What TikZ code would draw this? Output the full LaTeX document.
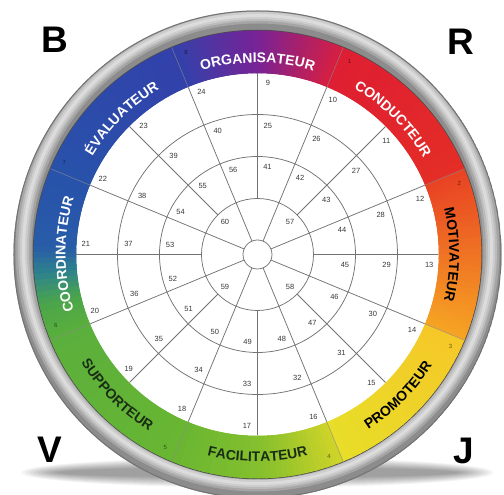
\documentclass[tikz,border=0pt]{standalone}
\usepackage{fontspec}
\setmainfont{Liberation Sans}
\usetikzlibrary{decorations.text}
\definecolor{k0}{RGB}{50,65,170}
\definecolor{k1}{RGB}{40,82,170}
\definecolor{k2}{RGB}{40,92,168}
\definecolor{k3}{RGB}{45,130,140}
\definecolor{k4}{RGB}{75,165,75}
\definecolor{k5}{RGB}{90,175,60}
\definecolor{k6}{RGB}{105,182,50}
\definecolor{k6b}{RGB}{135,192,45}
\definecolor{k7}{RGB}{208,212,40}
\definecolor{k8}{RGB}{232,222,40}
\definecolor{k9}{RGB}{245,200,40}
\definecolor{k10}{RGB}{246,165,35}
\definecolor{k11}{RGB}{232,65,35}
\definecolor{k12}{RGB}{228,45,38}
\definecolor{k13}{RGB}{222,30,50}
\definecolor{k14}{RGB}{215,30,65}
\definecolor{k15}{RGB}{120,35,150}
\definecolor{k16}{RGB}{50,65,170}
\definecolor{darktext}{RGB}{25,45,20}
\definecolor{numcol}{RGB}{55,55,55}
\newcommand\bandfont{\fontsize{14}{14}\selectfont\bfseries}
\newcommand\bandseg[5]{%
  \foreach \i in {1,...,#5}{%
    \pgfmathsetmacro\aa{#1+(#2-#1)*(\i-1)/#5}%
    \pgfmathsetmacro\ab{#1+(#2-#1)*\i/#5+0.4}%
    \pgfmathtruncatemacro\pp{round(100*(\i-0.5)/#5)}%
    \fill[#4!\pp!#3] (\aa:181) arc[start angle=\aa,end angle=\ab,radius=181]
      -- (\ab:224) arc[start angle=\ab,end angle=\aa,radius=224] -- cycle;
  }%
}
\newcommand\toplabel[3]{%
  \path[decorate,decoration={text along path,text align=center,
    text={|\bandfont\color{#3}|#2}}]
    ({#1+40}:192) arc[start angle={#1+40},end angle={#1-40},radius=192];}
\newcommand\botlabel[3]{%
  \path[decorate,decoration={text along path,text align=center,
    text={|\bandfont\color{#3}|#2}}]
    ({#1-40}:207) arc[start angle={#1-40},end angle={#1+40},radius=207];}
\begin{document}
\begin{tikzpicture}[x=1pt,y=1pt,
  gridline/.style={line width=0.75pt,draw=black!55},
  num/.style={font=\fontsize{7.5}{8}\selectfont,text=numcol,inner sep=0pt},
  secnum/.style={font=\fontsize{6}{6}\selectfont,text=black,opacity=0.55,inner sep=0pt},
  corner/.style={font=\fontsize{37}{37}\selectfont\bfseries,inner sep=0pt}]
\useasboundingbox (-257.5,-240.5) rectangle (246.5,254.5);
\fill[white] (-257.5,-240.5) rectangle (246.5,254.5);
% shadow
\foreach \k in {0,...,9}
  \fill[black,opacity=0.045] (0,-218) ellipse[x radius={236-4*\k}, y radius={15-1.1*\k}];
% metallic ring
\begin{scope}[even odd rule]
  \clip (0,0) circle[radius=244] (0,0) circle[radius=223];
  \fill[black!45] (0,0) circle[radius=245];
  \foreach \w/\o in {16/0.22,11/0.25,7/0.28,3/0.3}
    \draw[white,opacity=\o,line width=\w pt] (0,5) circle[radius=234];
  \draw[black!70,line width=2.5pt] (0,0) circle[radius=223.5];
  \draw[black!55,line width=1.2pt] (0,0) circle[radius=243.6];
\end{scope}
% colour band
\bandseg{-247.5}{-202.5}{k0}{k1}{20}
\bandseg{-202.5}{-182}{k1}{k2}{10}
\bandseg{-182}{-175}{k2}{k3}{5}
\bandseg{-175}{-167}{k3}{k4}{5}
\bandseg{-167}{-157.5}{k4}{k5}{5}
\bandseg{-157.5}{-112.5}{k5}{k6}{15}
\bandseg{-112.5}{-88}{k6}{k6b}{12}
\bandseg{-88}{-67.5}{k6b}{k7}{14}
\bandseg{-67.5}{-22.5}{k8}{k9}{20}
\bandseg{-22.5}{22.5}{k10}{k11}{30}
\bandseg{22.5}{67.5}{k12}{k13}{15}
\bandseg{67.5}{90}{k14}{k15}{15}
\bandseg{90}{112.5}{k15}{k16}{15}
\fill[white] (0,0) circle[radius=181];
% band boundaries
\foreach \a in {22.5,67.5,...,337.5}
  \draw[black!45,line width=0.6pt,opacity=0.7] (\a:181) -- (\a:224);
% grid
\foreach \r in {14.5,56,98,140}
  \draw[gridline] (0,0) circle[radius=\r];
\foreach \a in {22.5,67.5,...,337.5}
  \draw[gridline] (\a:14.5) -- (\a:181);
\foreach \a in {0,45,...,315}
  \draw[gridline] (\a:56) -- (\a:181);
% cell numbers
\foreach \i in {0,...,15}{
  \pgfmathtruncatemacro\na{9+\i}
  \pgfmathtruncatemacro\nb{25+\i}
  \pgfmathtruncatemacro\nc{41+\i}
  \node[num] (n\na) at ({90-22.5*\i-3.5}:172) {\na};
  \node[num] (n\nb) at ({90-22.5*\i-4.6}:129.5) {\nb};
  \node[num] (n\nc) at ({90-22.5*\i-6.5}:88) {\nc};
}
\node[num] (n57) at (45:46) {57};
\node[num] (n58) at (-45:46) {58};
\node[num] (n59) at (-135:46) {59};
\node[num] (n60) at (135:46) {60};
% sector numbers
\foreach \n/\a in {1/64.5,2/19.5,3/-25.5,4/-70.5,5/-115.5,6/-160.5,7/154.5,8/109.5}
  \node[secnum] (s\n) at (\a:214) {\n};
% band labels
\toplabel{90}{ORGANISATEUR}{white}
\toplabel{45}{CONDUCTEUR}{white}
\toplabel{0}{MOTIVATEUR}{black}
\botlabel{-45}{PROMOTEUR}{black}
\botlabel{-90}{FACILITATEUR}{darktext}
\botlabel{-135}{SUPPORTEUR}{darktext}
\toplabel{180}{COORDINATEUR}{white}
\toplabel{135}{ÉVALUATEUR}{white}
% corner letters
\node[corner] (B) at (-202.5,214.5) {B};
\node[corner] (R) at (203.5,212.5) {R};
\node[corner] (V) at (-207.5,-195.5) {V};
\node[corner] (J) at (206.5,-196.5) {J};
\end{tikzpicture}
\end{document}
